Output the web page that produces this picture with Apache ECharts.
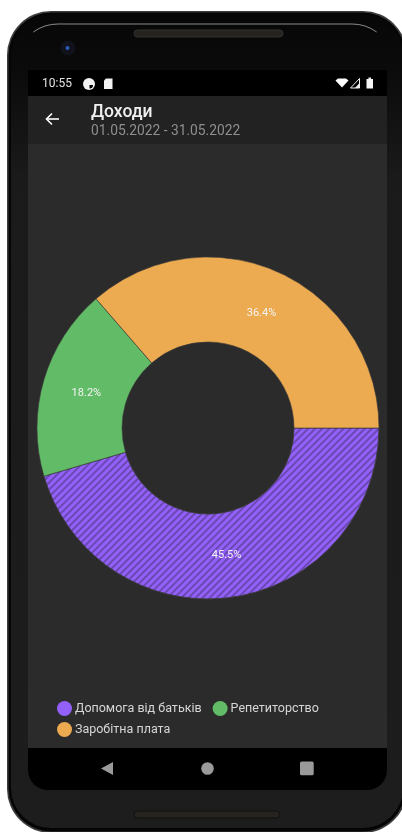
<!DOCTYPE html>
<html>
<head>
<meta charset="utf-8">
<style>
html,body{margin:0;padding:0;background:#fff;}
#chart{width:402px;height:832px;}
</style>
<script src="https://cdn.jsdelivr.net/npm/echarts@6/dist/echarts.min.js"></script>
</head>
<body>
<div id="chart"></div>
<script>
const categories = ['Допомога від батьків', 'Репетиторство', 'Заробітна плата'];
const shares = [45.5, 18.2, 36.4];
const sliceColors = ['#9360fa', '#62bb66', '#ecaa51'];
const screenTitle = 'Доходи';
const screenPeriod = '01.05.2022 - 31.05.2022';
const clockText = '10:55';

const chart = echarts.init(document.getElementById('chart'), null, {renderer: 'canvas'});

const bezelFill = new echarts.graphic.LinearGradient(0, 0, 0, 1, [
  {offset: 0, color: '#070707'},
  {offset: 0.07, color: '#0b0b0b'},
  {offset: 0.2, color: '#1a1a1a'},
  {offset: 1, color: '#1d1d1d'}
]);

// Device body, screen and app chrome sit behind the chart
const deviceShapes = [
  {type: 'rect', z: -10, shape: {x: 7, y: 11, width: 400, height: 822, r: 44}, style: {fill: '#3d3d3d'}},
  {type: 'rect', z: -9, shape: {x: 8.5, y: 12.5, width: 397, height: 819, r: 43}, style: {fill: '#050505'}},
  {type: 'rect', z: -8, shape: {x: 11, y: 15, width: 392, height: 813, r: 40}, style: {fill: bezelFill}},
  {type: 'arc', z: -7, shape: {cx: 58, cy: 66, r: 42, startAngle: Math.PI * 1.3, endAngle: Math.PI * 1.5},
    style: {stroke: '#8a8a8a', lineWidth: 1, fill: null}},
  {type: 'line', z: -7, shape: {x1: 58, y1: 24, x2: 352, y2: 24}, style: {stroke: '#8a8a8a', lineWidth: 1}},
  {type: 'arc', z: -7, shape: {cx: 352, cy: 66, r: 42, startAngle: Math.PI * 1.5, endAngle: Math.PI * 1.7},
    style: {stroke: '#8a8a8a', lineWidth: 1, fill: null}},
  {type: 'rect', z: -7, shape: {x: 134, y: 30, width: 149, height: 7, r: 3.5}, style: {fill: '#26231f', stroke: '#333', lineWidth: 1}},
  {type: 'rect', z: -7, shape: {x: 134, y: 811, width: 146, height: 7, r: 3.5}, style: {fill: '#26231f', stroke: '#111', lineWidth: 1}},
  {type: 'circle', z: -7, shape: {cx: 68, cy: 48, r: 7.5}, style: {fill: '#10131c'}},
  {type: 'circle', z: -6, shape: {cx: 67.5, cy: 48, r: 2}, style: {fill: '#2f58b8'}},
  {type: 'rect', z: -5, shape: {x: 28, y: 70, width: 359, height: 720, r: [0, 0, 20, 20]}, style: {fill: '#000'}},
  {type: 'rect', z: -4, shape: {x: 28, y: 96, width: 359, height: 48}, style: {fill: '#222222'}},
  {type: 'rect', z: -4, shape: {x: 28, y: 144, width: 359, height: 604}, style: {fill: '#2b2b2b'}}
];

// Status bar, toolbar and navigation glyphs
const chromeShapes = [
  {type: 'text', style: {x: 42, y: 84, text: clockText, fill: '#e4e4e4', font: '12px Roboto', textVerticalAlign: 'middle'}},
  {type: 'circle', shape: {cx: 89, cy: 84, r: 6}, style: {fill: '#f2f2f2'}},
  {type: 'sector', shape: {cx: 89.5, cy: 85, r: 3.5, r0: 0, startAngle: 0, endAngle: Math.PI / 2}, style: {fill: '#000'}},
  {type: 'polygon', shape: {points: [[106, 78.5], [112.5, 78.5], [112.5, 89], [104, 89], [104, 80.5]]}, style: {fill: '#f2f2f2'}},
  {type: 'polygon', shape: {points: [[335.5, 80.5], [338, 78.5], [346, 78.5], [348.5, 80.5], [342, 87.5]]}, style: {fill: '#fff'}},
  {type: 'polygon', shape: {points: [[350.5, 88], [359.5, 88], [359.5, 78.5]]}, style: {fill: '#000', stroke: '#eee', lineWidth: 1}},
  {type: 'polygon', shape: {points: [[355, 88], [359.5, 88], [359.5, 83]]}, style: {fill: '#eee'}},
  {type: 'rect', shape: {x: 366.5, y: 79, width: 6.5, height: 9.5}, style: {fill: '#f5f5f5'}},
  {type: 'rect', shape: {x: 368.5, y: 77.5, width: 2.5, height: 2}, style: {fill: '#f5f5f5'}},
  {type: 'polyline', shape: {points: [[46, 119], [59, 119]]}, style: {stroke: '#fff', lineWidth: 1.6}},
  {type: 'polyline', shape: {points: [[52, 113.5], [46.5, 119], [52, 124.5]]}, style: {stroke: '#fff', lineWidth: 1.6, fill: null}},
  {type: 'text', style: {x: 91, y: 112.5, text: screenTitle, fill: '#f0f0f0', font: '500 17.5px Roboto', textVerticalAlign: 'middle'}},
  {type: 'text', style: {x: 91, y: 132, text: screenPeriod, fill: '#8f8f8f', font: '13.8px Roboto', textVerticalAlign: 'middle'}},
  {type: 'polygon', shape: {points: [[113, 762], [113, 775], [101, 768.5]]}, style: {fill: '#9a9a9a'}},
  {type: 'circle', shape: {cx: 207.5, cy: 768.5, r: 6.3}, style: {fill: '#9a9a9a'}},
  {type: 'rect', shape: {x: 300, y: 761.5, width: 13.7, height: 13.7, r: 1.5}, style: {fill: '#9a9a9a'}}
];

// The legend wraps after two entries, so each row is its own component
const legendRow = (top, from, to) => ({
  left: 57,
  top,
  orient: 'horizontal',
  icon: 'circle',
  itemWidth: 15,
  itemHeight: 15,
  itemGap: 11,
  padding: 0,
  selectedMode: false,
  textStyle: {color: '#d6d6d6', fontFamily: 'Roboto', fontSize: 12.5, padding: [0, 0, 0, -2]},
  data: categories.slice(from, to).map((name, i) => ({
    name,
    itemStyle: {color: sliceColors[from + i], decal: 'none', borderWidth: 0}
  }))
});

chart.setOption({
  animation: false,
  backgroundColor: '#ffffff',
  color: sliceColors,
  graphic: {elements: deviceShapes.concat(chromeShapes.map(s => Object.assign({z: 5}, s)))},
  legend: [legendRow(701, 0, 2), legendRow(722, 2, 3)],
  series: [{
    type: 'pie',
    center: [208, 428],
    radius: [86, 171],
    startAngle: 0,
    clockwise: true,
    legendHoverLink: false,
    avoidLabelOverlap: false,
    itemStyle: {borderColor: '#3a3a3a', borderWidth: 0.6},
    label: {
      position: 'inside',
      color: '#f4f4f4',
      fontFamily: 'Roboto',
      fontSize: 11,
      formatter: p => p.value.toFixed(1) + '%'
    },
    // Pull each percentage slightly toward the ring's centre line
    labelLayout: p => {
      const lx = p.rect.x + p.rect.width / 2 - 208;
      const ly = p.rect.y + p.rect.height / 2 - 428;
      return {dx: -lx * 0.04, dy: 1 - ly * 0.04};
    },
    labelLine: {show: false},
    data: categories.map((name, i) => ({
      name,
      value: shares[i],
      itemStyle: i === 0 ? {
        color: sliceColors[i],
        decal: {symbol: 'rect', dashArrayX: [1, 0], dashArrayY: [2, 3], rotation: -Math.PI / 4, color: 'rgba(50,40,80,0.42)'}
      } : {color: sliceColors[i]}
    }))
  }]
});
</script>
</body>
</html>
